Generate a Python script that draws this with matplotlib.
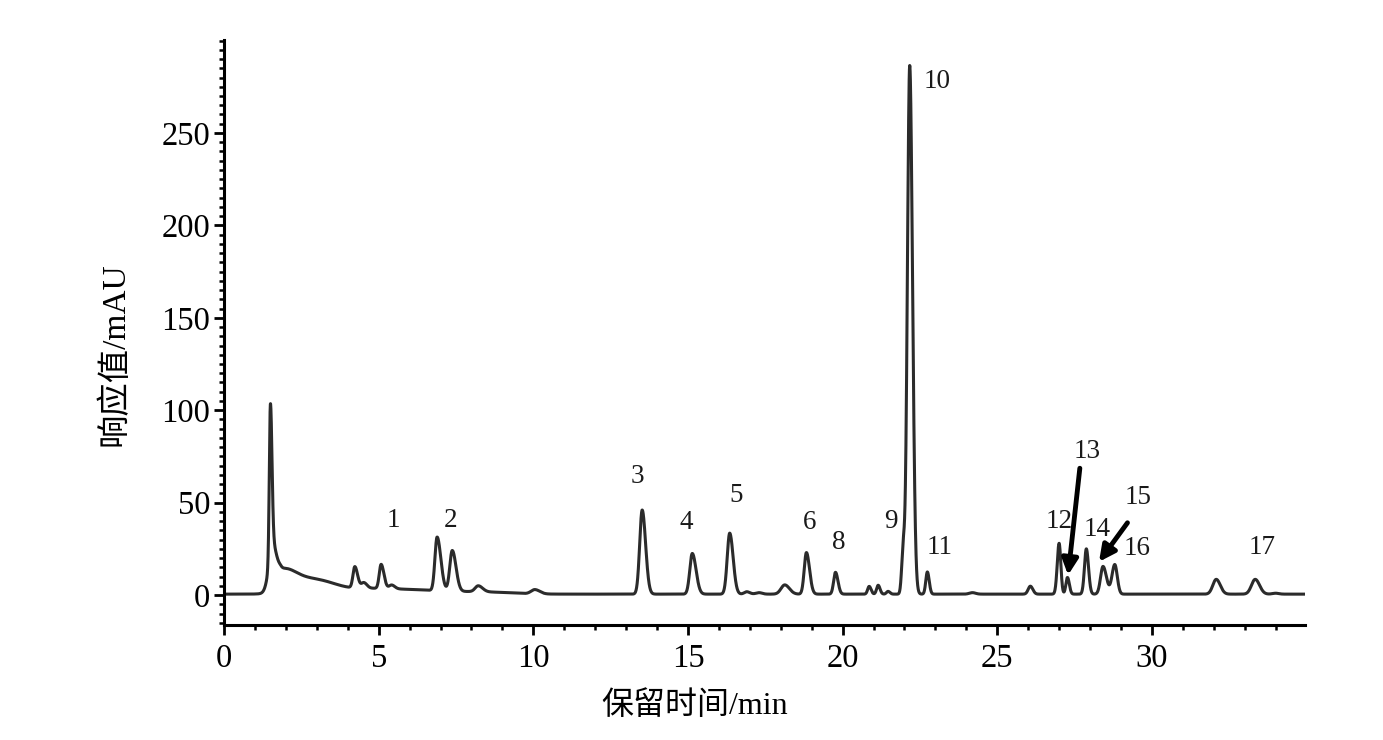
import numpy as np
import matplotlib.pyplot as plt
from matplotlib.ticker import MultipleLocator


# ==============================
# DATA
# ==============================
# peak table: retention time (min), height (mAU), left / right width (min)
peak_time = [1.50, 1.58, 1.85, 2.50, 3.30, 4.60, 6.50, 8.60,
             4.23, 4.52, 5.08, 5.42, 6.89, 7.38, 8.22, 10.05,
             13.52, 15.14, 16.35, 16.90, 17.30, 18.13, 18.83, 19.77,
             20.86, 21.15, 21.47, 21.96, 22.17, 22.74, 24.20,
             26.07, 27.00, 27.27, 27.88, 28.42, 28.80, 32.08, 33.34, 34.00]
peak_height = [82.0, 24.0, 10.5, 6.5, 4.0, 2.8, 1.7, 0.8,
               11.5, 3.0, 13.0, 2.0, 29.0, 22.0, 3.2, 2.3,
               45.5, 22.0, 33.0, 1.3, 0.8, 5.0, 22.5, 11.8,
               4.2, 4.8, 1.5, 24.0, 286.0, 12.0, 0.8,
               4.3, 27.5, 9.0, 24.5, 15.0, 16.0, 8.0, 8.0, 0.5]
width_left = [0.035, 0.13, 0.12, 0.5, 0.5, 0.8, 1.0, 0.8,
              0.06, 0.08, 0.06, 0.08, 0.07, 0.08, 0.10, 0.12,
              0.08, 0.08, 0.08, 0.08, 0.10, 0.12, 0.07, 0.06,
              0.05, 0.05, 0.05, 0.05, 0.075, 0.05, 0.10,
              0.07, 0.06, 0.05, 0.06, 0.08, 0.09, 0.11, 0.12, 0.10]
width_right = [0.05, 0.12, 0.40, 0.55, 0.5, 1.0, 1.2, 0.8,
               0.09, 0.10, 0.09, 0.10, 0.12, 0.12, 0.14, 0.16,
               0.11, 0.12, 0.11, 0.10, 0.10, 0.15, 0.10, 0.08,
               0.06, 0.06, 0.06, 0.05, 0.09, 0.06, 0.10,
               0.08, 0.055, 0.06, 0.07, 0.11, 0.08, 0.13, 0.14, 0.10]
baseline = 0.5

# peak numbers and where they are written
label_text = ['1', '2', '3', '4', '5', '6', '8', '9', '10', '11',
              '12', '13', '14', '15', '16', '17']
label_t = [5.46, 7.34, 13.38, 14.96, 16.55, 18.94, 19.88, 21.56, 23.04, 23.14,
           26.99, 27.89, 28.22, 29.54, 29.51, 33.55]
label_v = [40.6, 40.6, 63.9, 39.5, 53.6, 39.0, 28.7, 40.0, 277.6, 26.0,
           40.0, 77.9, 35.2, 53.0, 25.4, 26.0]

# arrows for peaks 13 and 15: (start t, start v, tip t, tip v)
arrow_start = [(27.67, 68.6), (29.21, 39.1)]
arrow_tip = [(27.29, 10.8), (28.29, 18.0)]


# ==============================
# TRACE FROM PEAK TABLE
# ==============================
def build_trace(t):
    y = np.full_like(t, baseline)
    for rt, h, wl, wr in zip(peak_time, peak_height, width_left, width_right):
        w = np.where(t < rt, wl, wr)
        y += h * np.exp(-0.5 * ((t - rt) / w) ** 2)
    return y


def main():
    serif = ['Liberation Serif', 'Noto Sans CJK SC']
    plt.rcParams['font.family'] = serif

    fig = plt.figure(figsize=(13.83, 7.40), dpi=100)
    ax = fig.add_axes([224 / 1383, 115 / 740, 1081 / 1383, 585 / 740])

    t = np.linspace(0, 34.95, 8000)
    ax.plot(t, build_trace(t), color='#2b2b2b', lw=2.2)

    for txt, x, y in zip(label_text, label_t, label_v):
        ax.text(x, y, txt, fontsize=19.5, ha='center', va='center',
                color='#1a1a1a')

    for (x0, y0), (x1, y1) in zip(arrow_start, arrow_tip):
        ax.annotate('', xy=(x1, y1), xytext=(x0, y0),
                    arrowprops=dict(arrowstyle='-|>', lw=3.5, color='black',
                                    mutation_scale=24, shrinkA=0, shrinkB=0))

    ax.set_xlim(0, 34.95)
    ax.set_ylim(-16.2, 300.3)

    ax.xaxis.set_major_locator(MultipleLocator(5))
    ax.xaxis.set_minor_locator(MultipleLocator(1))
    ax.yaxis.set_major_locator(MultipleLocator(50))
    ax.yaxis.set_minor_locator(MultipleLocator(5))
    ax.set_yticks([0, 50, 100, 150, 200, 250])

    ax.tick_params(which='major', direction='out', length=7, width=2,
                   labelsize=23.5, color='black')
    ax.tick_params(axis='x', which='major', pad=6)
    ax.tick_params(axis='y', which='major', pad=3)
    ax.tick_params(which='minor', direction='out', length=3.5, width=1.8,
                   color='black')

    for side in ['top', 'right']:
        ax.spines[side].set_visible(False)
    for side in ['left', 'bottom']:
        ax.spines[side].set_linewidth(2.2)
        ax.spines[side].set_color('black')

    fig.text(115 / 1383, 1 - 354 / 740, '响应值/mAU', rotation=90,
             ha='center', va='center', fontsize=24, family=serif)
    fig.text(695 / 1383, 1 - 706 / 740, '保留时间/min',
             ha='center', va='center', fontsize=23, family=serif)

    fig.savefig('out.png', dpi=100)


# ==============================
if __name__ == "__main__":
    main()
